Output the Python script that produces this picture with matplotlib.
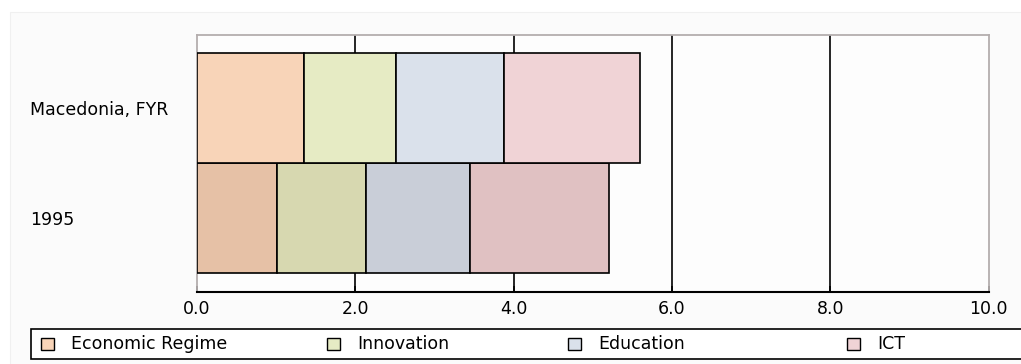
import matplotlib
matplotlib.use("Agg")
import matplotlib.pyplot as plt
from matplotlib.patches import Rectangle
from matplotlib.transforms import Affine2D

# ---- data ----
rows = ["1995", "Macedonia, FYR"]
components = ["Economic Regime", "Innovation", "Education", "ICT"]
values_1995 = [1.01, 1.12, 1.32, 1.76]
values_macedonia = [1.35, 1.16, 1.37, 1.72]
xticks = [0, 2, 4, 6, 8, 10]
xtick_labels = ["0.0", "2.0", "4.0", "6.0", "8.0", "10.0"]

colors_macedonia = ["#f8d4b8", "#e6ebc4", "#dae1eb", "#f0d3d6"]
colors_1995 = ["#e6c1a6", "#d7d8b0", "#c9ced8", "#e0c1c2"]

W, H = 1021, 364
fig = plt.figure(figsize=(W / 100, H / 100), dpi=100)
fig.patch.set_facecolor("white")
FONT = "DejaVu Sans"
FS = 12.5

# pixel transform (origin top-left)
pix = Affine2D().scale(1 / W, -1 / H).translate(0, 1) + fig.transFigure

# background panel
fig.patches.append(Rectangle((10, 12), 1030, 360, transform=pix,
                             facecolor="#fbfbfb", edgecolor="#f0f0f0", lw=0.8, zorder=-10))

L, R, T, B = 197, 988.5, 35, 292
ax = fig.add_axes([L / W, 1 - B / H, (R - L) / W, (B - T) / H])
ax.set_facecolor("#fdfdfd")

series = [values_1995, values_macedonia]
cols = [colors_1995, colors_macedonia]
for yi, (vals, cl) in enumerate(zip(series, cols)):
    left = 0.0
    for v, c in zip(vals, cl):
        ax.barh(yi, v, left=left, height=1.0, color=c, edgecolor="black",
                linewidth=1.2, zorder=3)
        left += v

ax.set_xlim(0, 10)
ax.set_ylim(-0.675, 1.664)
ax.set_xticks(xticks)
ax.set_xticklabels(xtick_labels, fontsize=FS, family=FONT)
for xv in xticks[1:-1]:
    ax.axvline(xv, color="black", lw=1.2, zorder=1)

ax.set_yticks([0, 1])
ax.set_yticklabels(rows, fontsize=FS, family=FONT)
for lab in ax.get_yticklabels():
    lab.set_horizontalalignment("left")
ax.tick_params(axis="y", length=0, pad=(L - 30) * 0.72)
ax.tick_params(axis="x", direction="in", length=4, width=1.2, pad=6, colors="black")

for s in ["left", "right", "top"]:
    ax.spines[s].set_color("#b4aeae")
    ax.spines[s].set_linewidth(1.3)
ax.spines["bottom"].set_color("black")
ax.spines["bottom"].set_linewidth(1.5)

# legend (manual)
fig.patches.append(Rectangle((31, 328.5), 1010, 30, transform=pix,
                             facecolor="white", edgecolor="black", lw=1.2, zorder=2))
leg_x = [41, 327, 568, 847]
for x0, name, c in zip(leg_x, components, colors_macedonia):
    fig.patches.append(Rectangle((x0, 338), 12.5, 12, transform=pix,
                                 facecolor=c, edgecolor="black", lw=1.0, zorder=3))
    fig.text(x0 + 30, 344, name, transform=pix, fontsize=FS, family=FONT,
             va="center", ha="left", zorder=4)

fig.savefig("out.png", dpi=100)
